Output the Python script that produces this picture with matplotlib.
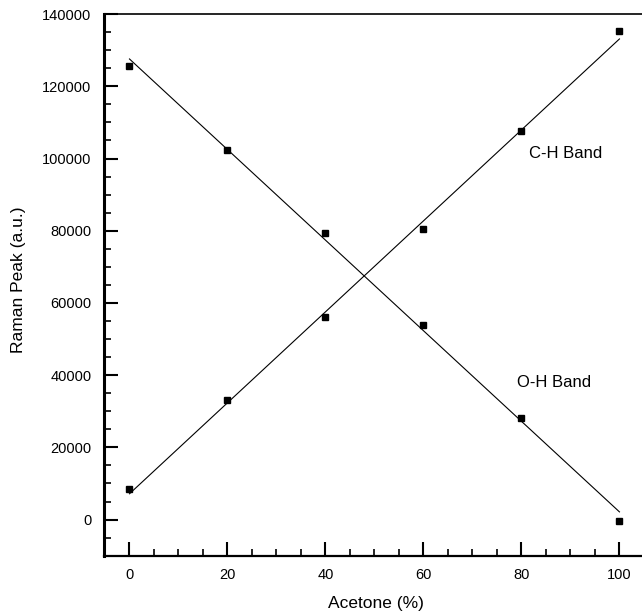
import numpy as np
import matplotlib
matplotlib.use("Agg")
import matplotlib.pyplot as plt
from matplotlib.ticker import MultipleLocator

acetone = [0, 20, 40, 60, 80, 100]
ch_band = [8500, 33000, 56000, 80500, 107600, 135200]
oh_band = [125700, 102300, 79400, 53900, 28100, -300]

plt.rcParams['font.family'] = ['Liberation Sans', 'DejaVu Sans']

fig = plt.figure(figsize=(6.42, 6.13), dpi=100)
ax = fig.add_axes([0.162, 0.0935, 0.838, 0.8835])

x = np.array(acetone, dtype=float)
for vals in (ch_band, oh_band):
    y = np.array(vals, dtype=float)
    m, b = np.polyfit(x, y, 1)
    xf = np.array([x.min(), x.max()])
    ax.plot(xf, m * xf + b, color='black', lw=0.8)
    ax.plot(x, y, 's', color='black', markersize=4.3)

ax.text(81.6, 101400, "C-H Band", fontsize=12, ha='left', va='center')
ax.text(79.1, 38100, "O-H Band", fontsize=12, ha='left', va='center')

ax.set_xlim(-5.2, 104.6)
ax.set_ylim(-10000, 140000)
ax.xaxis.set_minor_locator(MultipleLocator(5))
ax.yaxis.set_minor_locator(MultipleLocator(5000))
ax.set_xticks([0, 20, 40, 60, 80, 100])
ax.set_yticks([0, 20000, 40000, 60000, 80000, 100000, 120000, 140000])

ax.tick_params(which='both', direction='in', top=False, right=False, labelsize=10.5, pad=9)
ax.tick_params(which='major', length=10, width=1.5)
ax.tick_params(which='minor', length=5, width=1.2)

ax.spines['right'].set_visible(False)
ax.spines['left'].set_linewidth(2.2)
ax.spines['bottom'].set_linewidth(1.6)
ax.spines['top'].set_linewidth(1.2)

ax.set_xlabel("Acetone (%)", fontsize=12.5)
ax.set_ylabel("Raman Peak (a.u.)", fontsize=12.5)
ax.xaxis.set_label_coords(0.505, -0.075)
ax.yaxis.set_label_coords(-0.145, 0.51)

fig.savefig("out.png", dpi=100)
